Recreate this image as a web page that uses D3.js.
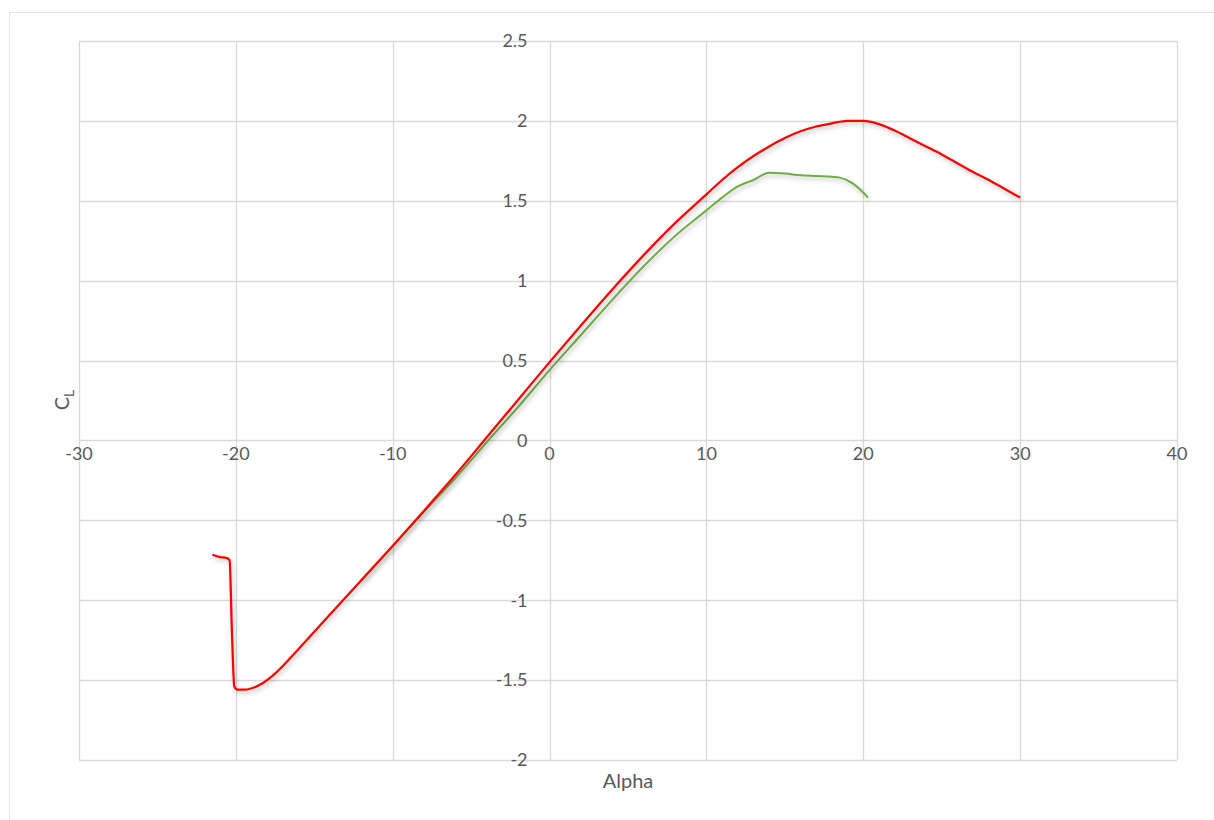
<!DOCTYPE html>
<html>
<head>
<meta charset="utf-8">
<script src="https://cdn.jsdelivr.net/npm/d3@7"></script>
<style>
  body { margin: 0; background: #fff; }
  svg { display: block; }
</style>
</head>
<body>
<div id="chart"></div>
<script>
// Lift coefficient data.
const redAlpha = [-21.5, -21.0, -20.6, -20.4, -20.25, -20.1, -19.9, -19.4, -18.8, -18.3, -17.4, -16.0, -14.0, -12.0, -10.0, -8.0, -6.0, -4.0, -2.0, 0, 2, 4, 6, 8, 10, 11, 12, 13, 14, 15, 16, 17, 18, 19, 20, 21, 22, 23, 24, 25, 26, 27, 28, 29, 30];
const redCl = [-0.715, -0.73, -0.735, -0.75, -1.2, -1.54, -1.56, -1.56, -1.545, -1.52, -1.45, -1.305, -1.09, -0.875, -0.66, -0.44, -0.215, 0.02, 0.255, 0.49, 0.72, 0.945, 1.16, 1.36, 1.54, 1.63, 1.71, 1.78, 1.84, 1.893, 1.935, 1.965, 1.985, 2.0, 2.0, 1.98, 1.94, 1.89, 1.84, 1.79, 1.735, 1.68, 1.63, 1.575, 1.52];

const greenAlpha = [-12, -10, -8, -6, -4, -2, 0, 2, 4, 6, 8, 10, 11, 12, 13, 14, 15, 16, 17, 18, 18.5, 19.3, 19.8, 20.3];
const greenCl = [-0.875, -0.66, -0.445, -0.235, -0.01, 0.21, 0.44, 0.66, 0.88, 1.09, 1.28, 1.44, 1.52, 1.59, 1.63, 1.675, 1.67, 1.66, 1.655, 1.65, 1.645, 1.61, 1.57, 1.52];

const xTicks = [-30, -20, -10, 0, 10, 20, 30, 40];
const yTicks = [-2, -1.5, -1, -0.5, 0, 0.5, 1, 1.5, 2, 2.5];

const width = 1214;
const height = 820;
const plot = { left: 79, right: 1177, top: 41, bottom: 760 };
const gridColor = "#d9d9d9";
const textColor = "#595959";
const font = "Lato, 'Open Sans', sans-serif";

const svg = d3.select("#chart").append("svg")
  .attr("width", width)
  .attr("height", height);

// Soft shadow under the lines.
const defs = svg.append("defs");
defs.append("filter")
  .attr("id", "shadow")
  .attr("x", "-5%").attr("y", "-5%")
  .attr("width", "110%").attr("height", "110%")
  .append("feDropShadow")
  .attr("dx", 1.5).attr("dy", 2.5)
  .attr("stdDeviation", 2)
  .attr("flood-color", "#000")
  .attr("flood-opacity", 0.25);

// Chart area border.
svg.append("rect")
  .attr("x", 9.5).attr("y", 12.5)
  .attr("width", width + 10).attr("height", height + 10)
  .attr("fill", "none")
  .attr("stroke", "#e3e3e3");

const x = d3.scaleLinear().domain([-30, 40]).range([plot.left, plot.right]);
const y = d3.scaleLinear().domain([-2, 2.5]).range([plot.bottom, plot.top]);

// Gridlines.
svg.append("g")
  .selectAll("line")
  .data(yTicks)
  .join("line")
  .attr("x1", plot.left).attr("x2", plot.right)
  .attr("y1", (d) => Math.round(y(d)) + 0.5)
  .attr("y2", (d) => Math.round(y(d)) + 0.5)
  .attr("stroke", gridColor)
  .attr("stroke-width", 1.3);

svg.append("g")
  .selectAll("line")
  .data(xTicks)
  .join("line")
  .attr("y1", plot.top).attr("y2", plot.bottom)
  .attr("x1", (d) => Math.round(x(d)) + 0.5)
  .attr("x2", (d) => Math.round(x(d)) + 0.5)
  .attr("stroke", gridColor)
  .attr("stroke-width", 1.3);

// Tick labels of the vertical axis, left of alpha = 0.
svg.append("g")
  .selectAll("text")
  .data(yTicks)
  .join("text")
  .attr("x", x(0) - 22)
  .attr("y", (d) => y(d))
  .attr("dy", "0.35em")
  .attr("text-anchor", "end")
  .attr("fill", textColor)
  .style("font-family", font)
  .style("font-size", "18px")
  .text((d) => d);

// Tick labels of the horizontal axis, below CL = 0.
svg.append("g")
  .selectAll("text")
  .data(xTicks)
  .join("text")
  .attr("x", (d) => x(d))
  .attr("y", y(0) + 13)
  .attr("dy", "0.35em")
  .attr("text-anchor", "middle")
  .attr("fill", textColor)
  .style("font-family", font)
  .style("font-size", "18px")
  .text((d) => d);

// Axis titles.
svg.append("text")
  .attr("x", 628).attr("y", 788)
  .attr("text-anchor", "middle")
  .attr("fill", textColor)
  .style("font-family", font)
  .style("font-size", "20px")
  .text("Alpha");

const yTitle = svg.append("text")
  .attr("transform", "translate(69,400) rotate(-90)")
  .attr("text-anchor", "middle")
  .attr("fill", textColor)
  .style("font-family", font)
  .style("font-size", "20px");
yTitle.append("tspan").text("C");
yTitle.append("tspan").attr("dy", 5).style("font-size", "14px").text("L");

// Series lines.
const line = d3.line()
  .x((d) => x(d[0]))
  .y((d) => y(d[1]))
  .curve(d3.curveMonotoneX);

const green = d3.zip(greenAlpha, greenCl);
const red = d3.zip(redAlpha, redCl);

svg.append("path")
  .datum(green)
  .attr("d", line)
  .attr("fill", "none")
  .attr("stroke", "#70ad47")
  .attr("stroke-width", 2)
  .attr("filter", "url(#shadow)");

svg.append("path")
  .datum(red)
  .attr("d", line)
  .attr("fill", "none")
  .attr("stroke", "#ff0000")
  .attr("stroke-width", 2.25)
  .attr("filter", "url(#shadow)");
</script>
</body>
</html>
